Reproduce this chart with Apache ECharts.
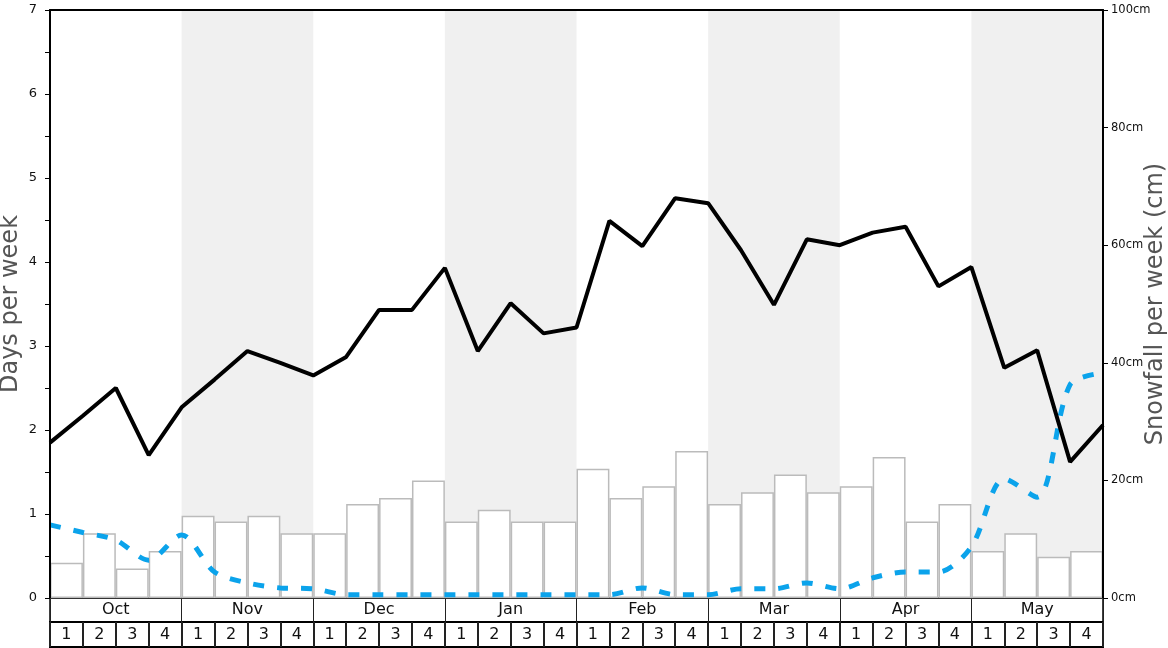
<!DOCTYPE html>
<html>
<head>
<meta charset="utf-8">
<script src="https://cdn.jsdelivr.net/npm/echarts@6/dist/echarts.min.js"></script>
<style>
  html, body { margin: 0; padding: 0; background: #fff; }
  #chart { width: 1168px; height: 648px; }
</style>
</head>
<body>
<div id="chart"></div>
<script>
const months = ['Oct', 'Nov', 'Dec', 'Jan', 'Feb', 'Mar', 'Apr', 'May']
const weekLabels = ['1', '2', '3', '4']
const shadedMonths = ['Nov', 'Jan', 'Mar', 'May']

// snowfall per week (cm), one bar per week
const snowfallCm = [6, 11, 5, 8, 14, 13, 14, 11, 11, 16, 17, 20, 13, 15, 13, 13,
  22, 17, 19, 25, 16, 18, 21, 18, 19, 24, 13, 16, 8, 11, 7, 8]

// days per week, points sit on the week boundaries (33 points)
const snowDays = [1.85, 2.17, 2.5, 1.7, 2.27, 2.6, 2.94, 2.8, 2.65, 2.87, 3.43, 3.43,
  3.93, 2.94, 3.51, 3.15, 3.22, 4.49, 4.19, 4.76, 4.7, 4.14, 3.49, 4.27, 4.2, 4.35,
  4.42, 3.71, 3.94, 2.74, 2.95, 1.62, 2.06]
const powderDays = [0.87, 0.78, 0.69, 0.45, 0.75, 0.31, 0.18, 0.12, 0.11, 0.04, 0.04, 0.04,
  0.04, 0.04, 0.04, 0.04, 0.04, 0.04, 0.12, 0.04, 0.04, 0.11, 0.11, 0.18, 0.11, 0.24,
  0.31, 0.31, 0.61, 1.42, 1.2, 2.54, 2.68]

const font = 'DejaVu Sans'
const weekCats = []
months.forEach(m => weekLabels.forEach(w => weekCats.push(m + ' ' + w)))

const bands = shadedMonths.map(m => {
  const i = months.indexOf(m) * weekLabels.length
  return [{ xAxis: i }, { xAxis: i + weekLabels.length }]
})

const chart = echarts.init(document.getElementById('chart'))

const option = {
  animation: false,
  grid: [
    { left: 50, top: 10, width: 1053, height: 588, containLabel: false, outerBoundsMode: 'none' },
    { left: 50, top: 598, width: 1053, height: 24, containLabel: false, outerBoundsMode: 'none',
      show: true, borderColor: '#000', borderWidth: 1.5 },
    { left: 50, top: 622, width: 1053, height: 25, containLabel: false, outerBoundsMode: 'none',
      show: true, borderColor: '#000', borderWidth: 2 }
  ],
  xAxis: [
    {
      type: 'category', gridIndex: 0, data: weekCats, z: 10,
      axisLine: { show: true, lineStyle: { color: '#333', width: 1 } },
      axisTick: { show: false }, axisLabel: { show: false }, splitLine: { show: false }
    },
    {
      type: 'value', gridIndex: 0, min: 0, max: 32, position: 'top', z: 10,
      axisLine: { show: true, onZero: false, lineStyle: { color: '#000', width: 2 } },
      axisTick: { show: false }, axisLabel: { show: false }, splitLine: { show: false }
    },
    {
      type: 'category', gridIndex: 1, data: months,
      axisLine: { show: false }, axisTick: { show: false },
      splitLine: { show: true, interval: 0, lineStyle: { color: '#222', width: 1 } },
      axisLabel: { inside: true, margin: 12, verticalAlign: 'middle', interval: 0,
        fontSize: 16, color: '#111', fontFamily: font }
    },
    {
      type: 'category', gridIndex: 2, data: weekCats,
      axisLine: { show: false }, axisTick: { show: false },
      splitLine: { show: true, interval: 0, lineStyle: { color: '#222', width: 2 } },
      axisLabel: { inside: true, margin: 12.5, verticalAlign: 'middle', interval: 0,
        fontSize: 16, color: '#111', fontFamily: font,
        formatter: v => v.split(' ')[1] }
    }
  ],
  yAxis: [
    {
      type: 'value', gridIndex: 0, min: 0, max: 7, interval: 1, z: 10,
      name: 'Days per week', nameLocation: 'middle', nameGap: 27, nameMoveOverlap: false,
      nameTextStyle: { fontSize: 24, color: '#555', fontFamily: font },
      axisLine: { show: true, lineStyle: { color: '#000', width: 2 } },
      axisTick: { show: true, length: 5, lineStyle: { color: '#000' } },
      minorTick: { show: true, splitNumber: 2, length: 5, lineStyle: { color: '#000', width: 1 } },
      splitLine: { show: false },
      axisLabel: { fontSize: 13, color: '#111', margin: 13, fontFamily: font }
    },
    {
      type: 'value', gridIndex: 0, position: 'right', min: 0, max: 100, interval: 20, z: 10,
      name: 'Snowfall per week (cm)', nameLocation: 'middle', nameGap: 41, nameMoveOverlap: false,
      nameTextStyle: { fontSize: 24, color: '#555', fontFamily: font },
      axisLine: { show: true, lineStyle: { color: '#000', width: 2 } },
      axisTick: { show: true, length: 5, lineStyle: { color: '#000' } },
      splitLine: { show: false },
      axisLabel: { fontSize: 11.5, color: '#111', margin: 8, fontFamily: font, formatter: '{value}cm' }
    },
    { type: 'value', gridIndex: 1, show: false },
    { type: 'value', gridIndex: 2, show: false }
  ],
  series: [
    {
      name: 'bands', type: 'line', xAxisIndex: 1, yAxisIndex: 0, data: [], z: 1, silent: true,
      markArea: { silent: true, itemStyle: { color: '#f0f0f0' }, data: bands }
    },
    {
      name: 'Snowfall', type: 'bar', xAxisIndex: 0, yAxisIndex: 1, data: snowfallCm, z: 2,
      barCategoryGap: '0%', barWidth: '100%',
      itemStyle: { color: '#fff', borderColor: '#bbb', borderWidth: 1.5 }
    },
    {
      name: 'Powder days', type: 'line', xAxisIndex: 1, yAxisIndex: 0, z: 3,
      data: powderDays.map((v, i) => [i, v]),
      symbol: 'none', smooth: 0.3,
      lineStyle: { color: '#0ba3eb', width: 5, type: [11, 13] }
    },
    {
      name: 'Snow days', type: 'line', xAxisIndex: 1, yAxisIndex: 0, z: 4,
      data: snowDays.map((v, i) => [i, v]),
      symbol: 'none',
      lineStyle: { color: '#000', width: 4 }
    }
  ]
}

chart.setOption(option)
window.addEventListener('resize', () => chart.resize())
</script>
</body>
</html>
